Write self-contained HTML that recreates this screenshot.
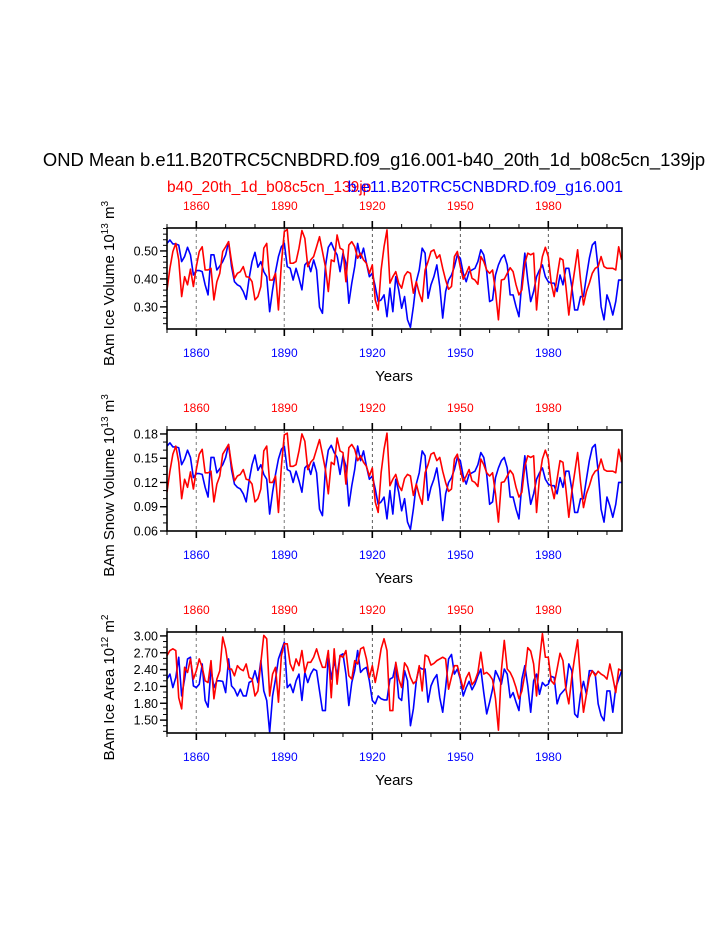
<!DOCTYPE html>
<html><head><meta charset="utf-8"><style>
html,body{margin:0;padding:0;background:#fff;}
svg{display:block;font-family:"Liberation Sans",Arial,sans-serif;}
</style></head><body>
<svg id="chart" width="723" height="935" viewBox="0 0 723 935" xmlns="http://www.w3.org/2000/svg">
<text x="374" y="166" font-size="18.4" text-anchor="middle">OND Mean b.e11.B20TRC5CNBDRD.f09_g16.001-b40_20th_1d_b08c5cn_139jp</text>
<text x="167" y="192" font-size="15.5" fill="#ff0000">b40_20th_1d_b08c5cn_139jp</text>
<text x="623" y="192" font-size="16" fill="#0000ff" text-anchor="end">b.e11.B20TRC5CNBDRD.f09_g16.001</text>
</svg>
<script>
const startYear = 1850;
const gridYears = [1860, 1890, 1920, 1950, 1980];
const iceVolBlue = [.527,.539,.525,.525,.521,.462,.48,.513,.486,.414,.430,.430,.426,.379,.343,.486,.486,.432,.446,.462,.486,.533,.444,.39,.379,.373,.355,.327,.402,.462,.495,.442,.462,.426,.408,.283,.361,.426,.48,.515,.527,.444,.438,.396,.438,.402,.361,.45,.462,.426,.468,.432,.299,.277,.444,.513,.53,.504,.486,.426,.492,.456,.313,.385,.444,.527,.474,.51,.456,.408,.42,.373,.319,.325,.343,.265,.367,.283,.408,.361,.295,.337,.254,.227,.301,.39,.432,.51,.492,.331,.379,.408,.45,.373,.26,.355,.396,.414,.444,.486,.474,.42,.39,.426,.432,.438,.462,.504,.486,.426,.319,.325,.414,.45,.474,.486,.45,.343,.343,.301,.265,.39,.492,.396,.319,.355,.408,.432,.45,.408,.39,.385,.385,.355,.414,.379,.438,.438,.373,.289,.289,.337,.337,.408,.474,.521,.533,.438,.301,.254,.343,.313,.271,.319,.396,.396];
const iceVolRed = [.361,.438,.498,.527,.468,.337,.408,.379,.435,.373,.444,.498,.515,.432,.432,.438,.325,.39,.42,.498,.515,.533,.462,.402,.42,.426,.444,.408,.406,.39,.325,.337,.373,.51,.527,.396,.396,.42,.289,.456,.569,.577,.456,.456,.462,.51,.573,.545,.444,.468,.48,.515,.551,.498,.444,.355,.468,.462,.557,.51,.504,.39,.521,.533,.515,.474,.492,.468,.456,.42,.45,.325,.289,.432,.515,.575,.385,.408,.426,.385,.367,.411,.426,.42,.349,.39,.349,.319,.432,.462,.498,.504,.474,.486,.438,.396,.363,.373,.48,.498,.444,.399,.42,.444,.402,.396,.381,.48,.462,.432,.42,.432,.355,.254,.396,.399,.42,.44,.426,.379,.343,.361,.456,.492,.486,.492,.289,.414,.48,.513,.48,.385,.337,.408,.474,.468,.373,.271,.361,.432,.504,.396,.307,.355,.385,.42,.438,.444,.48,.444,.438,.438,.438,.432,.515,.468];
const snowVolBlue = [.165,.169,.164,.164,.163,.142,.149,.160,.151,.126,.131,.131,.130,.114,.102,.151,.151,.132,.137,.142,.151,.167,.136,.118,.114,.112,.106,.096,.122,.142,.154,.135,.142,.130,.124,.081,.108,.130,.149,.161,.165,.136,.134,.120,.134,.122,.108,.138,.142,.130,.145,.132,.087,.079,.136,.160,.166,.157,.151,.130,.153,.140,.091,.116,.136,.165,.147,.159,.140,.124,.128,.112,.093,.096,.102,.075,.110,.081,.124,.108,.085,.100,.071,.062,.087,.118,.132,.159,.153,.098,.114,.124,.138,.112,.073,.106,.120,.126,.136,.151,.147,.128,.118,.130,.132,.134,.142,.157,.151,.130,.093,.096,.126,.138,.147,.151,.138,.102,.102,.087,.075,.118,.153,.120,.093,.106,.124,.132,.138,.124,.118,.116,.116,.106,.126,.114,.134,.134,.112,.083,.083,.100,.100,.124,.147,.163,.167,.134,.087,.071,.102,.091,.077,.093,.120,.120];
const snowVolRed = [.108,.134,.155,.165,.145,.100,.124,.114,.133,.112,.136,.155,.161,.132,.132,.134,.096,.118,.128,.155,.161,.167,.142,.122,.128,.130,.136,.124,.123,.118,.096,.100,.112,.159,.165,.120,.120,.128,.083,.140,.179,.181,.140,.140,.142,.159,.180,.171,.136,.145,.149,.161,.173,.155,.136,.106,.145,.142,.175,.159,.157,.118,.163,.167,.161,.147,.153,.145,.140,.128,.138,.096,.083,.132,.161,.181,.116,.124,.130,.116,.110,.125,.130,.128,.104,.118,.104,.093,.132,.142,.155,.157,.147,.151,.134,.120,.109,.112,.149,.155,.136,.121,.128,.136,.122,.120,.115,.149,.142,.132,.128,.132,.106,.071,.120,.121,.128,.135,.130,.114,.102,.108,.140,.153,.151,.153,.083,.126,.149,.160,.149,.116,.100,.124,.147,.145,.112,.077,.108,.132,.157,.120,.089,.106,.116,.128,.134,.136,.149,.136,.134,.134,.134,.132,.161,.145];
const iceAreaBlue = [2.23,2.32,2.08,2.26,2.62,1.93,2.23,2.59,2.62,2.11,2.08,2.14,2.50,1.85,1.73,2.41,2.08,2.20,2.20,2.19,1.99,2.59,2.11,2.05,1.93,2.05,1.93,1.93,2.17,2.20,2.38,2.17,2.56,2.02,1.85,1.28,1.93,2.23,2.59,2.74,2.89,2.08,2.14,1.99,2.20,2.32,1.85,2.35,2.17,2.32,2.41,2.38,2.02,1.67,1.67,2.68,2.23,2.56,2.29,2.65,2.68,2.32,1.76,2.17,2.38,2.74,2.35,2.41,2.44,2.20,1.85,1.79,1.93,1.88,1.86,1.86,2.23,2.26,2.50,1.90,1.85,2.38,2.20,1.40,1.70,2.20,2.44,2.41,2.41,1.82,2.11,2.23,2.31,1.90,1.64,2.08,2.59,2.67,2.32,2.41,2.23,1.93,2.08,2.19,2.04,2.14,2.29,2.41,1.99,1.61,1.82,2.05,2.38,2.27,2.14,2.41,2.32,1.90,1.99,1.82,1.67,2.23,2.47,2.11,1.64,2.20,2.32,1.96,2.17,2.11,2.14,2.28,2.26,1.79,1.95,2.01,2.07,2.50,2.38,1.61,1.55,1.96,2.19,1.96,2.38,2.38,2.32,1.79,1.58,1.49,2.02,2.02,1.64,2.08,2.23,2.38];
const iceAreaRed = [2.65,2.74,2.77,2.74,1.90,1.70,2.44,2.35,2.59,2.23,2.38,2.59,2.44,2.20,2.17,2.56,1.88,2.23,2.38,2.98,2.77,2.41,2.41,2.29,2.47,2.41,2.38,2.50,2.26,2.23,1.93,2.02,2.53,3.01,2.95,1.93,2.32,2.44,1.82,2.65,2.86,2.86,2.50,2.38,2.59,2.47,2.74,2.35,2.53,2.53,2.62,2.77,2.59,2.44,2.44,2.74,1.90,2.77,2.14,2.65,2.62,2.74,2.29,2.23,2.56,2.50,2.77,2.80,2.59,2.26,2.47,2.17,2.44,2.77,2.95,2.74,1.67,1.67,2.53,2.23,2.08,2.52,2.44,2.26,2.15,2.20,2.47,2.02,2.66,2.63,2.48,2.51,2.56,2.59,2.62,2.59,2.05,2.27,2.47,2.47,2.26,2.05,2.25,2.35,2.13,2.20,2.35,2.71,2.32,2.35,2.30,2.22,1.88,1.32,2.38,2.92,2.41,2.35,2.24,2.08,1.88,2.02,2.32,2.79,2.73,2.50,1.93,2.56,3.04,2.62,2.62,2.20,2.14,2.41,2.69,2.56,2.05,1.79,2.26,2.62,2.93,2.20,1.64,1.96,2.26,2.38,2.29,2.37,2.32,2.29,2.23,2.50,2.26,1.99,2.41,2.38];
const panel1Ticks = ["0.30","0.40","0.50"];
const panel2Ticks = ["0.06","0.09","0.12","0.15","0.18"];
const panel3Ticks = ["1.50","1.80","2.10","2.40","2.70","3.00"];
const yearLabels = ["1860","1890","1920","1950","1980"];

const NS = "http://www.w3.org/2000/svg";
const svg = document.getElementById('chart');
const X0 = 167, X1 = 622, PXY = 2.933;
function xs(yr){ return X0 + (yr - 1850.0) * PXY; }
function mk(tag, attrs, parent){ const e = document.createElementNS(NS, tag); for (const k in attrs) e.setAttribute(k, attrs[k]); (parent||svg).appendChild(e); return e; }

const panels = [
  {top:228, bot:329, ymin:0.221, ymax:0.582, ticks:panel1Ticks, minor:0.02, blue:iceVolBlue, red:iceVolRed, title:"BAm Ice Volume 10", sup:"13", unit:" m", usup:"3", key:"ice-volume"},
  {top:430, bot:531, ymin:0.06, ymax:0.1849, ticks:panel2Ticks, minor:0.01, blue:snowVolBlue, red:snowVolRed, title:"BAm Snow Volume 10", sup:"13", unit:" m", usup:"3", key:"snow-volume"},
  {top:632, bot:733, ymin:1.27, ymax:3.07, ticks:panel3Ticks, minor:0.1, blue:iceAreaBlue, red:iceAreaRed, title:"BAm Ice Area 10", sup:"12", unit:" m", usup:"2", key:"ice-area"}
];

panels.forEach(function(p){
  const g = mk('g', {});
  
  
  const ys = v => p.bot - (v - p.ymin) / (p.ymax - p.ymin) * (p.bot - p.top);
  gridYears.forEach(function(yr){
    const l = mk('line', {x1:xs(yr), x2:xs(yr), y1:p.top, y2:p.bot, stroke: yr < 1920 ? '#999' : '#333', 'stroke-width': yr < 1920 ? 1.3 : 0.8, 'stroke-dasharray':'3,3'}, g);
    
    
  });
  [['blue', p.blue, '#0000ff'], ['red', p.red, '#ff0000']].forEach(function(s){
    const d = s[1].map((v,i) => (i ? 'L' : 'M') + xs(startYear + i).toFixed(2) + ',' + ys(v).toFixed(2)).join('');
    const path = mk('path', {d:d, fill:'none', stroke:s[2], 'stroke-width':1.6, 'stroke-linejoin':'round'}, g);
    
    
  });
  const fr = mk('rect', {x:X0, y:p.top, width:X1-X0, height:p.bot-p.top, fill:'none', stroke:'#000', 'stroke-width':1.6}, g);
  
  
  for (let yr = 1850; yr <= 2000; yr += 10) {
    const major = gridYears.indexOf(yr) >= 0;
    const len = major ? 7 : 4;
    mk('line', {x1:xs(yr), x2:xs(yr), y1:p.top, y2:p.top-len, stroke:'#000', 'stroke-width':major?1.6:1}, g);
    mk('line', {x1:xs(yr), x2:xs(yr), y1:p.bot, y2:p.bot+len, stroke:'#000', 'stroke-width':major?1.6:1}, g);
  }
  yearLabels.forEach(function(lab){
    const t1 = mk('text', {x:xs(+lab), y:p.top-18, 'font-size':12, 'text-anchor':'middle', fill:'#ff0000'}, g);
    t1.textContent = lab;
    
    
    const t2 = mk('text', {x:xs(+lab), y:p.bot+28, 'font-size':12, 'text-anchor':'middle', fill:'#0000ff'}, g);
    t2.textContent = lab;
    
    
  });
  const step = p.minor;
  for (let v = Math.ceil(p.ymin/step - 1e-6)*step; v <= p.ymax + 1e-9; v += step) {
    mk('line', {x1:X0, x2:X0-4, y1:ys(v), y2:ys(v), stroke:'#000', 'stroke-width':1}, g);
  }
  p.ticks.forEach(function(lab){
    const y = ys(+lab);
    mk('line', {x1:X0, x2:X0-7, y1:y, y2:y, stroke:'#000', 'stroke-width':1.4}, g);
    const t = mk('text', {x:X0-9, y:y+4.5, 'font-size':12.5, 'text-anchor':'end'}, g);
    t.textContent = lab;
    
    
  });
  const xt = mk('text', {x:394, y:p.bot+52, 'font-size':15, 'text-anchor':'middle'}, g);
  xt.textContent = 'Years';
  
  
  const cy = (p.top + p.bot)/2 + 5;
  const yt = mk('text', {x:0, y:0, 'font-size':15, 'text-anchor':'middle', transform:'translate(114,' + cy + ') rotate(-90)'}, g);
  
  
  const a = mk('tspan', {}, yt); a.textContent = p.title;
  const b = mk('tspan', {dy:-6, 'font-size':10}, yt); b.textContent = p.sup;
  const c = mk('tspan', {dy:6}, yt); c.textContent = p.unit;
  const d2 = mk('tspan', {dy:-6, 'font-size':10}, yt); d2.textContent = p.usup;
});
</script>
</body></html>
